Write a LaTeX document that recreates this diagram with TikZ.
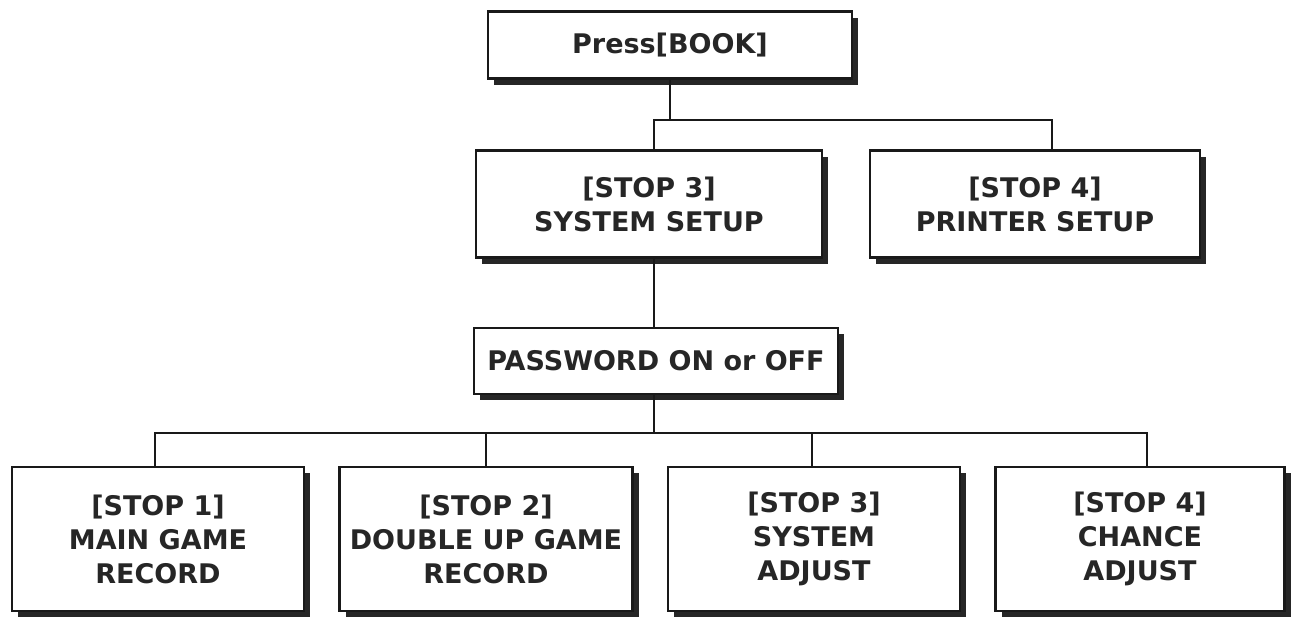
\documentclass[tikz,border=0pt]{standalone}
\usepackage{fontspec}
\setmainfont{DejaVu Sans}
\usepackage{tikz}
\usetikzlibrary{positioning, shadows}
\tikzset{x=1pt, y=-1pt, % one unit is one pixel of the page
menu/.style={draw=black!90, line width=2.8pt, fill=white, align=center, inner sep=0pt,
  text=black!85, font=\bfseries\fontsize{27}{34}\selectfont,
  drop shadow={shadow xshift=6pt, shadow yshift=-6pt, fill=black!85, opacity=1}}, % boxed menu item
link/.style={line width=2pt, black!90}, % the joining lines
}

\begin{document}
\begin{tikzpicture}
\useasboundingbox (0,0) rectangle (1299,619);

\node[menu, minimum width=364pt, minimum height=67pt] (book) at (670,45) {Press[BOOK]};
\node[menu, minimum width=346pt, minimum height=107pt] (sys) at (649,204) {[STOP 3]\\SYSTEM SETUP};
\node[menu, minimum width=330pt, minimum height=107pt] (prn) at (1035,204) {[STOP 4]\\PRINTER SETUP};
\node[menu, minimum width=364pt, minimum height=66pt] (pwd) at (656,361) {PASSWORD ON or OFF};

\node[menu, minimum width=292pt, minimum height=144pt] (rec1) at (158,539) {[STOP 1]\\MAIN GAME\\RECORD};
\node[menu, minimum width=293pt, minimum height=144pt] (rec2) at (486,539) {[STOP 2]\\DOUBLE UP GAME\\RECORD};
\node[menu, minimum width=292pt, minimum height=144pt] (adj3) at (814,539) {[STOP 3]\\SYSTEM\\ADJUST};
\node[menu, minimum width=289pt, minimum height=144pt] (adj4) at (1140,539) {[STOP 4]\\CHANCE\\ADJUST};

\coordinate (bus1) at (0,120);
\coordinate (bus2) at (0,433);

\begin{scope}[on background layer/.try]
\draw[link] (book.south) -- (book.south |- bus1);
\draw[link] ([xshift=5pt]sys.north) |- ([xshift=17pt]prn.north |- bus1) -- ([xshift=17pt]prn.north);
\draw[link] ([xshift=5pt]sys.south) -- ([xshift=-2pt]pwd.north);
\draw[link] ([xshift=-2pt]pwd.south) -- ([xshift=-2pt]pwd.south |- bus2);
\draw[link] ([xshift=-3pt]rec1.north) |- ([xshift=7pt]adj4.north |- bus2) -- ([xshift=7pt]adj4.north);
\draw[link] (rec2.north) -- (rec2.north |- bus2);
\draw[link] ([xshift=-2pt]adj3.north) -- ([xshift=-2pt]adj3.north |- bus2);
\end{scope}

\end{tikzpicture}
\end{document}
